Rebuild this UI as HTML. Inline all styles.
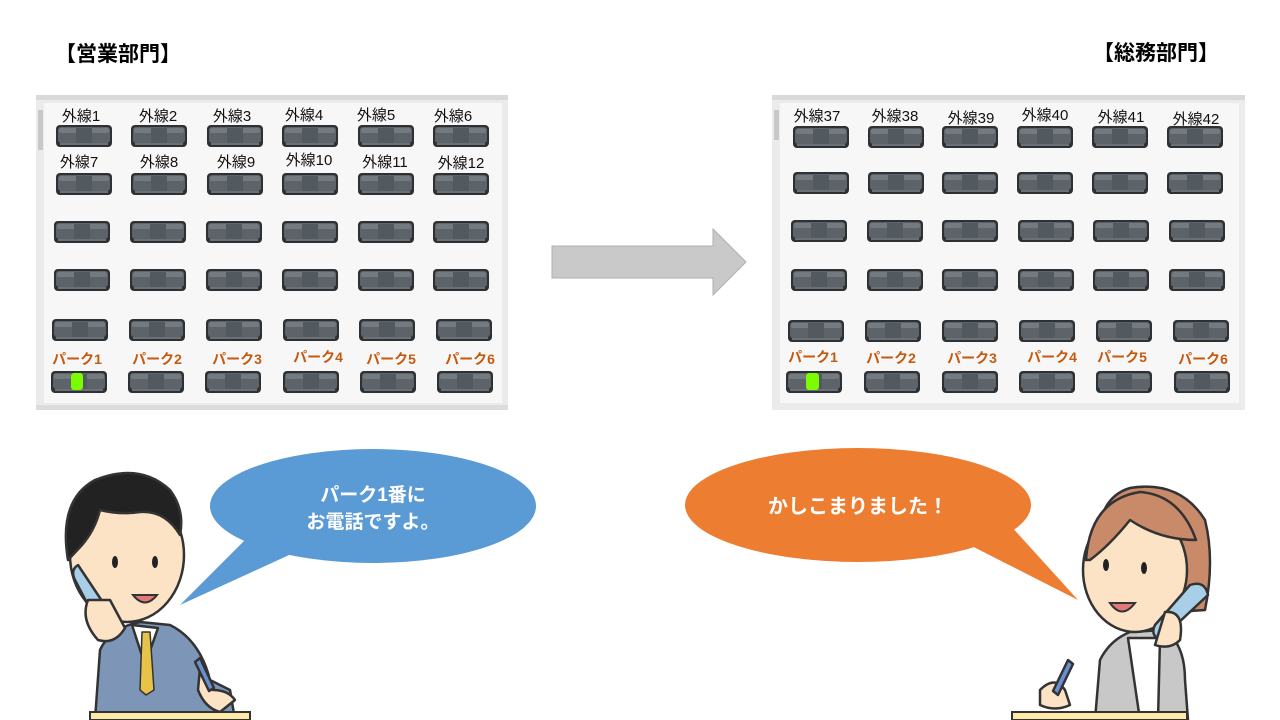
<!DOCTYPE html>
<html><head><meta charset="utf-8"><style>
html,body{margin:0;padding:0;background:#fff;}
svg{display:block;}
text{font-family:"Liberation Sans","Noto Sans CJK JP",sans-serif;}
</style></head><body>
<svg width="1280" height="720" viewBox="0 0 1280 720" xmlns="http://www.w3.org/2000/svg">
<defs>
<g id="btn">
<rect x="0" y="0" width="56" height="22" rx="4" fill="#2e3134"/>
<rect x="2" y="2" width="52" height="16" rx="3" fill="#5d6368"/>
<rect x="3" y="3" width="50" height="5" rx="2" fill="#737a80"/>
<rect x="20" y="3" width="16" height="15" fill="#535a5f"/>
<rect x="4" y="18" width="48" height="2" fill="#6a7075"/>
</g>
</defs>
<text x="55" y="61" font-size="21" font-weight="bold" fill="#000">【営業部門】</text>
<text x="1093" y="60" font-size="21" font-weight="bold" fill="#000">【総務部門】</text>

<!-- Left panel -->
<rect x="36" y="95" width="472" height="315" fill="#ebebeb"/>
<rect x="36" y="95" width="472" height="5" fill="#d9d9d9"/>
<rect x="36" y="405" width="472" height="5" fill="#dcdcdc"/>
<rect x="44" y="103" width="458" height="300" fill="#f7f7f7"/>
<rect x="38" y="110" width="5" height="40" fill="#c8c8c8"/>
<g>
<use href="#btn" x="56" y="125"/><use href="#btn" x="131" y="125"/><use href="#btn" x="207" y="125"/><use href="#btn" x="282" y="125"/><use href="#btn" x="358" y="125"/><use href="#btn" x="433" y="125"/>
<use href="#btn" x="56" y="173"/><use href="#btn" x="131" y="173"/><use href="#btn" x="207" y="173"/><use href="#btn" x="282" y="173"/><use href="#btn" x="358" y="173"/><use href="#btn" x="433" y="173"/>
<use href="#btn" x="54" y="221"/><use href="#btn" x="130" y="221"/><use href="#btn" x="206" y="221"/><use href="#btn" x="282" y="221"/><use href="#btn" x="358" y="221"/><use href="#btn" x="433" y="221"/>
<use href="#btn" x="54" y="269"/><use href="#btn" x="130" y="269"/><use href="#btn" x="206" y="269"/><use href="#btn" x="282" y="269"/><use href="#btn" x="358" y="269"/><use href="#btn" x="433" y="269"/>
<use href="#btn" x="52" y="319"/><use href="#btn" x="129" y="319"/><use href="#btn" x="206" y="319"/><use href="#btn" x="283" y="319"/><use href="#btn" x="359" y="319"/><use href="#btn" x="436" y="319"/>
<use href="#btn" x="51" y="371"/><use href="#btn" x="128" y="371"/><use href="#btn" x="205" y="371"/><use href="#btn" x="283" y="371"/><use href="#btn" x="360" y="371"/><use href="#btn" x="437" y="371"/>
</g>
<rect x="71" y="373" width="12" height="17" rx="3" fill="#7cfc00"/>
<g font-size="15" fill="#111" text-anchor="middle">
<text x="81" y="121">外線1</text><text x="158" y="121">外線2</text><text x="232" y="121">外線3</text><text x="304" y="120">外線4</text><text x="376" y="120">外線5</text><text x="453" y="121">外線6</text>
<text x="79" y="167">外線7</text><text x="159" y="167">外線8</text><text x="236" y="167">外線9</text><text x="309" y="165">外線10</text><text x="385" y="167">外線11</text><text x="461" y="168">外線12</text>
</g>
<g font-size="14" font-weight="bold" fill="#c55a11" text-anchor="middle">
<text x="77" y="364">パーク1</text><text x="157" y="364">パーク2</text><text x="237" y="364">パーク3</text><text x="318" y="362">パーク4</text><text x="391" y="364">パーク5</text><text x="470" y="364">パーク6</text>
</g>

<!-- Arrow -->
<polygon points="552,246 713,246 713,229 746,262 713,295 713,278 552,278" fill="#c9c9c9" stroke="#b0b0b0" stroke-width="1"/>

<!-- Right panel -->
<rect x="772" y="95" width="473" height="315" fill="#ebebeb"/>
<rect x="772" y="95" width="473" height="5" fill="#d9d9d9"/>
<rect x="780" y="103" width="459" height="300" fill="#f7f7f7"/>
<rect x="774" y="110" width="5" height="30" fill="#c8c8c8"/>
<g>
<use href="#btn" x="793" y="126"/><use href="#btn" x="868" y="126"/><use href="#btn" x="942" y="126"/><use href="#btn" x="1017" y="126"/><use href="#btn" x="1092" y="126"/><use href="#btn" x="1167" y="126"/>
<use href="#btn" x="793" y="172"/><use href="#btn" x="868" y="172"/><use href="#btn" x="942" y="172"/><use href="#btn" x="1017" y="172"/><use href="#btn" x="1092" y="172"/><use href="#btn" x="1167" y="172"/>
<use href="#btn" x="791" y="220"/><use href="#btn" x="867" y="220"/><use href="#btn" x="942" y="220"/><use href="#btn" x="1018" y="220"/><use href="#btn" x="1093" y="220"/><use href="#btn" x="1169" y="220"/>
<use href="#btn" x="791" y="269"/><use href="#btn" x="867" y="269"/><use href="#btn" x="942" y="269"/><use href="#btn" x="1018" y="269"/><use href="#btn" x="1093" y="269"/><use href="#btn" x="1169" y="269"/>
<use href="#btn" x="788" y="320"/><use href="#btn" x="865" y="320"/><use href="#btn" x="942" y="320"/><use href="#btn" x="1019" y="320"/><use href="#btn" x="1096" y="320"/><use href="#btn" x="1173" y="320"/>
<use href="#btn" x="786" y="371"/><use href="#btn" x="864" y="371"/><use href="#btn" x="942" y="371"/><use href="#btn" x="1019" y="371"/><use href="#btn" x="1096" y="371"/><use href="#btn" x="1174" y="371"/>
</g>
<rect x="806" y="373" width="13" height="17" rx="3" fill="#7cfc00"/>
<g font-size="15" fill="#111" text-anchor="middle">
<text x="817" y="121">外線37</text><text x="895" y="121">外線38</text><text x="971" y="123">外線39</text><text x="1045" y="120">外線40</text><text x="1121" y="122">外線41</text><text x="1196" y="124">外線42</text>
</g>
<g font-size="14" font-weight="bold" fill="#c55a11" text-anchor="middle">
<text x="813" y="362">パーク1</text><text x="891" y="363">パーク2</text><text x="972" y="363">パーク3</text><text x="1052" y="362">パーク4</text><text x="1122" y="362">パーク5</text><text x="1203" y="364">パーク6</text>
</g>

<!-- Blue bubble -->
<polygon points="255,530 300,550 180,605" fill="#5b9bd5"/>
<ellipse cx="373" cy="506" rx="163" ry="57" fill="#5b9bd5"/>
<text x="373" y="501" font-size="19" font-weight="bold" fill="#fff" text-anchor="middle">パーク1番に</text>
<text x="373" y="528" font-size="19" font-weight="bold" fill="#fff" text-anchor="middle">お電話ですよ。</text>

<!-- Orange bubble -->
<polygon points="950,535 1010,525 1078,600" fill="#ed7d31"/>
<ellipse cx="858" cy="505" rx="173" ry="57" fill="#ed7d31"/>
<text x="858" y="513" font-size="20" font-weight="bold" fill="#fff" text-anchor="middle">かしこまりました！</text>

<!-- Man -->
<g stroke="#333" stroke-width="2.5" stroke-linejoin="round">
<path d="M95,720 L100,650 Q110,628 140,622 L170,625 Q200,640 210,680 L230,690 L235,720 Z" fill="#7d96b8"/>
<path d="M132,625 L145,665 L158,628 Z" fill="#fff"/>
<path d="M142,632 L150,632 L154,690 L146,695 L140,690 Z" fill="#e8c34a" stroke-width="1.5"/>
<ellipse cx="127" cy="555" rx="57" ry="67" fill="#fce3c6"/>
<path d="M68,560 Q58,500 95,480 Q140,462 170,490 Q185,510 180,535 Q165,510 140,512 Q120,515 100,510 Q95,530 82,545 Z" fill="#222"/>
<path d="M75,580 Q70,570 78,565 L118,625 Q110,635 100,628 Z" fill="#a9cfe8"/>
<path d="M88,600 Q80,620 98,640 Q115,645 125,628 L110,600 Z" fill="#fce3c6"/>
<path d="M200,668 L213,690 Q228,690 235,700 L220,712 Q205,708 198,690 Z" fill="#fce3c6"/>
<path d="M195,662 L200,658 L214,688 L209,691 Z" fill="#6a8fd0"/>
</g>
<ellipse cx="115" cy="562" rx="3" ry="6" fill="#222"/>
<ellipse cx="155" cy="562" rx="3" ry="6" fill="#222"/>
<path d="M133,595 Q145,610 157,595 Z" fill="#e27878" stroke="#333" stroke-width="2"/>
<rect x="90" y="712" width="160" height="8" fill="#fde9a8" stroke="#333" stroke-width="2"/>

<!-- Woman -->
<g stroke="#333" stroke-width="2.5" stroke-linejoin="round">
<path d="M1095,720 L1100,660 Q1110,640 1130,632 L1165,630 Q1185,645 1185,680 L1188,720 Z" fill="#c8c8c8"/>
<path d="M1128,638 L1140,720 L1158,720 L1160,638 Z" fill="#fff"/>
<path d="M1100,570 Q1090,500 1130,488 Q1180,480 1205,520 Q1215,560 1205,610 L1175,612 Z" fill="#c98a6a"/>
<ellipse cx="1135" cy="570" rx="52" ry="62" fill="#fce3c6"/>
<path d="M1086,560 Q1090,500 1140,492 Q1180,495 1196,540 Q1160,540 1130,520 Q1110,545 1090,560 Z" fill="#c98a6a"/>
<path d="M1190,585 Q1205,580 1208,595 L1160,640 Q1150,635 1155,625 Z" fill="#a9cfe8"/>
<path d="M1165,612 Q1185,610 1180,640 Q1170,650 1155,645 Z" fill="#fce3c6"/>
<path d="M1040,690 Q1055,675 1065,690 L1070,705 Q1055,712 1040,705 Z" fill="#fce3c6"/>
<path d="M1068,660 L1073,664 L1058,695 L1053,691 Z" fill="#6a8fd0"/>
</g>
<ellipse cx="1106" cy="565" rx="3" ry="6" fill="#222"/>
<ellipse cx="1144" cy="568" rx="3" ry="6" fill="#222"/>
<path d="M1110,603 Q1122,620 1135,603 Z" fill="#e27878" stroke="#333" stroke-width="2"/>
<rect x="1012" y="712" width="175" height="8" fill="#fde9a8" stroke="#333" stroke-width="2"/>
</svg>
</body></html>
